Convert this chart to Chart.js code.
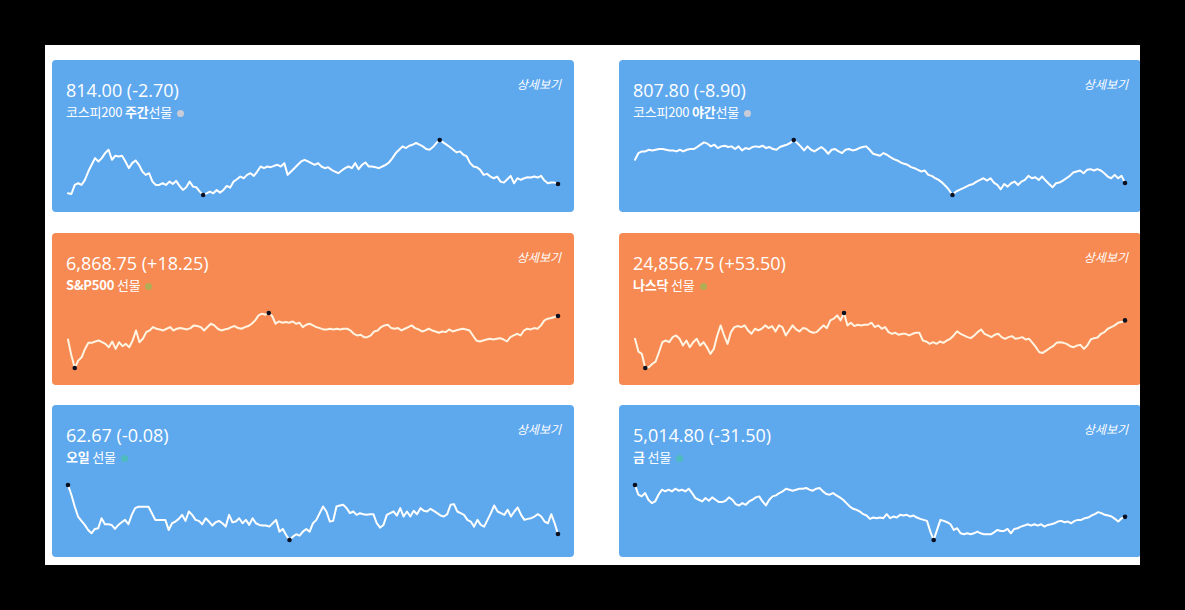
<!DOCTYPE html>
<html><head><meta charset="utf-8">
<script src="https://cdn.jsdelivr.net/npm/chart.js@4"></script>
<style>
html,body{margin:0;padding:0;background:#000;width:1185px;height:610px;overflow:hidden;}
#panel{position:absolute;left:45px;top:45px;width:1095px;height:520px;background:#fff;overflow:hidden;}
.card{position:absolute;width:522px;height:152px;border-radius:4px;font-family:"Open Sans","Noto Sans CJK KR",sans-serif;color:#fff;}
.blue{background:#5ea8ee}
.orange{background:#f68a52}
.price{position:absolute;left:14px;top:18px;font-size:18px;line-height:24px;white-space:nowrap;}
.name{position:absolute;left:14px;top:43px;font-size:13px;line-height:18px;font-family:"Noto Sans CJK KR",sans-serif;white-space:nowrap;letter-spacing:-0.2px;}
.name b{font-weight:700}
.dot{display:inline-block;width:7px;height:7px;border-radius:50%;margin-left:5px;vertical-align:middle;}
.more{position:absolute;right:13px;top:15px;font-size:12px;line-height:18px;font-style:italic;font-family:"Noto Sans CJK KR",sans-serif;}
.cw{position:absolute;left:12px;top:76px;width:498px;height:63px;}
</style>
</head><body>
<div id="panel"></div>
<script>
// ---- data ----
const prices  = ['814.00','807.80','6,868.75','24,856.75','62.67','5,014.80'];
const changes = ['-2.70','-8.90','+18.25','+53.50','-0.08','-31.50'];
const nameParts = [['코스피200 ','주간','선물'],['코스피200 ','야간','선물'],['','S&P500',' 선물'],['','나스닥',' 선물'],['','오일',' 선물'],['','금',' 선물']];
const detailLabel = '상세보기';

const kospiDay = [812.60,812.50,813.85,814.10,813.85,814.60,815.85,816.85,817.85,817.35,817.85,818.60,819.10,817.60,818.20,818.10,818.20,817.35,816.35,817.10,817.50,816.85,815.85,815.35,815.60,814.35,813.85,813.85,814.10,813.85,814.35,814.00,814.45,813.70,813.10,813.50,814.35,813.60,813.50,812.85,812.35,812.60,812.85,812.60,813.10,812.70,813.10,813.70,813.45,814.35,814.70,815.10,814.85,815.35,815.60,815.20,815.85,816.60,816.35,816.60,816.50,816.70,816.85,816.60,817.10,815.35,815.85,816.35,816.85,817.35,817.60,817.35,817.10,816.85,817.10,816.60,816.35,816.50,816.10,815.85,815.60,816.00,816.35,816.60,816.35,817.10,816.20,816.85,817.20,816.60,816.60,816.50,816.35,816.60,816.85,817.20,817.85,818.60,819.10,819.60,819.35,819.70,819.85,820.10,819.85,819.60,819.20,819.10,819.50,820.10,820.55,820.20,819.85,819.50,819.10,818.70,818.85,818.35,818.10,817.10,816.60,816.50,816.10,815.35,815.50,815.10,814.85,815.10,814.35,814.20,814.70,815.20,814.10,814.85,814.60,814.85,815.00,814.95,815.10,814.95,815.20,814.50,814.10,814.20,814.20,814.00];
const kospiNight = [811.25,812.25,812.50,812.50,812.75,812.65,812.75,812.85,812.85,812.75,812.65,812.65,812.50,812.75,812.50,812.75,812.85,812.85,813.15,813.50,813.85,813.65,813.25,813.50,813.00,813.25,813.35,813.15,813.25,812.85,813.25,812.65,813.00,812.85,813.15,813.25,813.15,813.35,813.00,813.15,812.85,812.75,813.15,813.35,813.50,813.75,814.20,813.75,813.25,812.65,813.25,812.75,812.50,812.85,813.15,812.75,812.15,812.75,812.85,812.50,812.25,812.75,812.85,812.65,812.75,813.00,813.15,813.25,812.75,812.15,812.00,811.85,812.25,812.00,811.65,811.35,811.15,810.85,810.65,810.50,810.15,810.00,809.75,809.50,809.65,809.00,808.85,808.50,808.25,807.85,807.35,806.75,806.00,806.50,806.75,807.00,807.25,807.50,807.65,808.00,808.25,808.50,808.15,808.50,807.85,807.50,806.85,807.65,807.25,807.75,808.00,807.50,808.00,808.25,808.85,808.50,808.65,808.25,808.75,808.15,807.65,807.15,807.75,807.85,808.15,808.50,808.85,809.35,809.50,809.65,809.25,809.75,809.85,809.65,809.85,809.65,809.25,808.75,808.50,809.00,808.50,808.85,807.80];
const sp500 = [6851.25,6839.25,6830.00,6835.50,6838.00,6844.25,6848.75,6848.75,6849.75,6850.50,6849.25,6848.00,6845.50,6849.75,6844.25,6849.25,6846.25,6848.00,6845.50,6850.50,6858.00,6849.25,6851.75,6856.75,6858.00,6860.50,6859.25,6858.75,6858.00,6859.25,6860.50,6858.00,6859.25,6859.75,6859.25,6858.75,6859.75,6861.75,6861.25,6860.50,6858.00,6860.50,6863.00,6861.75,6859.25,6858.00,6858.75,6859.25,6860.50,6861.25,6859.75,6859.25,6860.50,6861.25,6863.00,6865.50,6869.25,6870.50,6869.75,6871.00,6868.75,6863.00,6864.75,6863.75,6864.25,6863.75,6864.75,6863.00,6863.75,6860.50,6862.25,6863.00,6861.75,6860.50,6859.75,6858.75,6858.75,6859.25,6858.75,6859.25,6858.75,6859.25,6859.25,6858.00,6855.50,6854.25,6854.75,6853.00,6853.00,6854.25,6857.25,6858.00,6860.50,6861.75,6862.25,6859.75,6859.25,6859.75,6858.00,6859.25,6860.50,6861.75,6859.75,6858.75,6857.25,6858.00,6859.25,6858.00,6857.25,6856.25,6857.25,6856.75,6858.75,6857.25,6858.00,6858.75,6859.25,6858.75,6858.00,6854.25,6850.50,6849.75,6850.50,6851.25,6851.75,6851.25,6851.75,6852.25,6851.25,6849.75,6853.00,6854.25,6855.50,6854.25,6858.00,6859.25,6858.75,6859.75,6859.25,6861.75,6865.50,6866.75,6867.25,6868.00,6868.75];
const nasdaq = [24801.75,24763.75,24756.75,24714.75,24716.75,24726.75,24733.75,24761.75,24791.75,24796.75,24791.75,24806.75,24811.75,24801.75,24781.75,24796.75,24776.75,24791.75,24801.75,24781.75,24791.75,24776.75,24756.75,24771.75,24811.75,24841.75,24811.75,24786.75,24821.75,24836.75,24839.75,24836.75,24841.75,24826.75,24816.75,24831.75,24826.75,24831.75,24841.75,24833.75,24839.75,24823.75,24841.75,24836.75,24811.75,24826.75,24841.75,24829.75,24823.75,24833.75,24831.75,24823.75,24819.75,24821.75,24831.75,24841.75,24833.75,24856.75,24861.75,24871.75,24856.75,24878.75,24841.75,24849.75,24839.75,24843.75,24841.75,24843.75,24843.75,24849.75,24836.75,24841.75,24831.75,24836.75,24821.75,24816.75,24819.75,24813.75,24816.75,24816.75,24811.75,24816.75,24819.75,24819.75,24796.75,24793.75,24786.75,24791.75,24786.75,24793.75,24789.75,24796.75,24801.75,24811.75,24823.75,24816.75,24811.75,24806.75,24803.75,24811.75,24821.75,24829.75,24816.75,24811.75,24806.75,24813.75,24816.75,24806.75,24801.75,24806.75,24809.75,24801.75,24803.75,24806.75,24799.75,24801.75,24789.75,24776.75,24761.75,24759.75,24766.75,24773.75,24779.75,24789.75,24791.75,24789.75,24786.75,24779.75,24776.75,24781.75,24783.75,24771.75,24781.75,24799.75,24803.75,24805.75,24816.75,24821.75,24831.75,24836.75,24841.75,24849.75,24851.75,24856.75];
const oil = [64.13,63.84,63.49,63.19,63.06,62.94,62.79,62.69,62.82,62.84,63.14,62.96,62.96,62.94,62.82,62.94,63.02,63.09,62.96,63.24,63.44,63.48,63.48,63.48,63.48,63.29,63.09,63.09,63.09,63.09,62.79,62.99,63.04,63.12,63.24,63.06,63.34,63.24,63.09,63.06,62.96,63.14,63.04,62.92,63.02,63.06,62.99,62.89,63.24,63.02,63.04,63.14,62.99,63.09,62.94,63.14,62.99,62.94,62.92,62.92,62.89,62.99,63.09,62.74,62.82,62.64,62.49,62.59,62.66,62.62,62.74,62.82,62.74,62.99,63.09,63.29,63.49,63.34,63.04,63.06,63.49,63.52,63.54,63.44,63.29,63.34,63.24,63.29,63.26,63.24,63.26,63.26,62.99,62.86,62.94,63.24,63.29,63.34,63.22,63.44,63.19,63.34,63.19,63.36,63.26,63.44,63.36,63.34,63.42,63.36,63.29,63.22,63.19,63.26,63.54,63.56,63.34,63.29,63.24,63.09,63.04,62.89,63.09,62.94,62.89,63.09,63.29,63.52,63.34,63.29,63.24,63.39,63.19,63.34,63.46,63.24,63.09,63.12,63.14,63.19,63.26,63.19,63.04,62.99,63.26,62.99,62.67];
const gold = [5038.55,5031.30,5030.05,5032.55,5027.55,5025.05,5026.30,5031.30,5035.05,5033.80,5035.05,5033.80,5035.80,5034.30,5035.05,5033.80,5035.80,5032.55,5028.80,5027.55,5026.30,5028.80,5026.80,5029.30,5027.55,5025.80,5025.80,5026.80,5029.30,5027.55,5024.30,5023.30,5025.05,5023.80,5026.30,5027.55,5029.30,5030.05,5026.30,5023.30,5027.55,5030.05,5030.80,5032.55,5033.80,5035.80,5035.05,5034.30,5035.05,5035.80,5035.80,5036.30,5035.05,5034.30,5035.80,5036.30,5033.80,5031.80,5031.30,5032.55,5030.80,5029.30,5027.55,5025.05,5022.55,5020.80,5020.05,5018.80,5016.80,5015.80,5013.30,5014.30,5013.80,5014.30,5013.80,5016.80,5013.80,5015.05,5014.30,5016.30,5015.80,5016.30,5015.05,5015.80,5014.30,5013.30,5012.55,5011.80,5003.80,4997.55,5005.05,5012.55,5011.80,5010.80,5009.30,5005.05,5006.30,5002.55,5001.80,5002.55,5001.80,5002.55,5003.80,5002.55,5001.80,5001.80,5001.80,5003.30,5005.05,5004.30,5004.30,5005.80,5002.55,5005.80,5006.30,5007.55,5008.30,5009.30,5008.30,5009.30,5008.30,5009.30,5007.55,5008.80,5009.30,5010.05,5011.30,5011.80,5010.80,5011.30,5010.05,5011.80,5012.55,5012.55,5013.80,5014.30,5015.80,5016.80,5018.30,5017.55,5016.30,5015.80,5015.05,5013.30,5011.30,5013.80,5014.80];

const seriesList = [kospiDay, kospiNight, sp500, nasdaq, oil, gold];

// ---- presentation ----
const tones = ['blue','blue','orange','orange','blue','blue'];
const dotColors = ['#c9ccd6','#c9ccd6','rgba(120,200,90,0.55)','rgba(120,200,90,0.55)','rgba(60,210,130,0.45)','rgba(60,210,130,0.45)'];
const lineColors = {blue:'#ffffff', orange:'#fff4e2'};
const cardLeft = [7,574], cardTop = [15,188,360];

const panel = document.getElementById('panel');
seriesList.forEach((data, i) => {
  const card = document.createElement('div');
  card.className = 'card ' + tones[i];
  card.style.left = cardLeft[i % 2] + 'px';
  card.style.top = cardTop[Math.floor(i / 2)] + 'px';
  const p = document.createElement('div');
  p.className = 'price';
  p.textContent = prices[i] + ' (' + changes[i] + ')';
  const n = document.createElement('div');
  n.className = 'name';
  const [a, b, c] = nameParts[i];
  n.appendChild(document.createTextNode(a));
  const bold = document.createElement('b'); bold.textContent = b; n.appendChild(bold);
  n.appendChild(document.createTextNode(c));
  const dot = document.createElement('span'); dot.className = 'dot'; dot.style.background = dotColors[i]; n.appendChild(dot);
  const m = document.createElement('div'); m.className = 'more'; m.textContent = detailLabel;
  const cw = document.createElement('div'); cw.className = 'cw';
  const cv = document.createElement('canvas'); cw.appendChild(cv);
  card.append(p, n, m, cw);
  panel.appendChild(card);

  const lo = Math.min(...data), hi = Math.max(...data);
  const marks = new Set([data.indexOf(lo), data.indexOf(hi), data.length - 1]);
  new Chart(cv, {
    type: 'line',
    data: {
      labels: data.map((_, k) => k),
      datasets: [{
        data: data,
        borderColor: lineColors[tones[i]],
        borderWidth: 2,
        tension: 0,
        fill: false,
        borderJoinStyle: 'round',
        borderCapStyle: 'round',
        pointRadius: ctx => marks.has(ctx.dataIndex) ? 2.3 : 0,
        pointBackgroundColor: '#0b1020',
        pointBorderWidth: 0,
        clip: false
      }]
    },
    options: {
      responsive: true,
      maintainAspectRatio: false,
      animation: false,
      events: [],
      layout: { padding: 4 },
      plugins: { legend: { display: false }, tooltip: { enabled: false } },
      scales: {
        x: { display: false },
        y: { display: false, min: lo, max: hi }
      }
    }
  });
});
</script>
</body></html>
